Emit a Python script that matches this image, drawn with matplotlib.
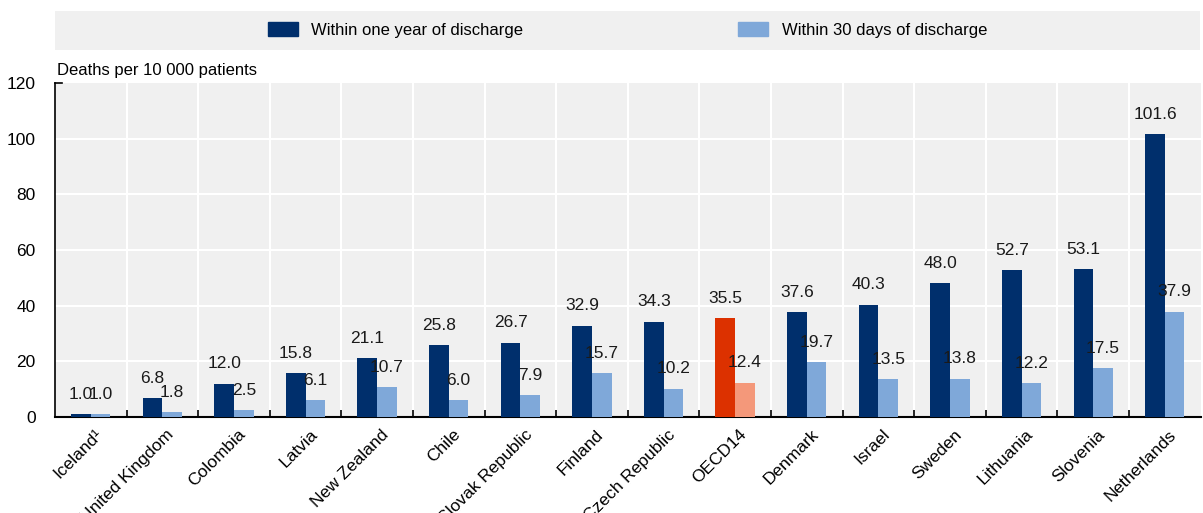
import matplotlib
matplotlib.use("Agg")
import matplotlib.pyplot as plt
import matplotlib.transforms as mtransforms
from matplotlib.patches import Patch
import numpy as np

plt.rcParams['font.family'] = ['Liberation Sans', 'DejaVu Sans']

countries = ["Iceland¹", "United Kingdom", "Colombia", "Latvia", "New Zealand", "Chile",
             "Slovak Republic", "Finland", "Czech Republic", "OECD14", "Denmark", "Israel",
             "Sweden", "Lithuania", "Slovenia", "Netherlands"]
one_year = [1.0, 6.8, 12.0, 15.8, 21.1, 25.8, 26.7, 32.9, 34.3, 35.5, 37.6, 40.3, 48.0, 52.7, 53.1, 101.6]
thirty_days = [1.0, 1.8, 2.5, 6.1, 10.7, 6.0, 7.9, 15.7, 10.2, 12.4, 19.7, 13.5, 13.8, 12.2, 17.5, 37.9]
yticks = [0, 20, 40, 60, 80, 100, 120]

dark = "#002F6C"
light = "#7FA8D9"
hl_dark = "#DC3100"
hl_light = "#F4987A"
bg = "#F0F0F0"

fig = plt.figure(figsize=(12.03, 5.13), dpi=100)
ax = fig.add_axes([0.0457, 0.187, 0.9523, 0.651])
ax.set_facecolor(bg)

n = len(countries)
x = np.arange(n)
w = 0.275
c1 = [hl_dark if c == "OECD14" else dark for c in countries]
c2 = [hl_light if c == "OECD14" else light for c in countries]
ax.bar(x - w / 2, one_year, w, color=c1, zorder=3)
ax.bar(x + w / 2, thirty_days, w, color=c2, zorder=3)

for xi, v in zip(x, one_year):
    ax.annotate(f"{v:.1f}", (xi - w / 2, v), xytext=(0, 9), textcoords="offset points",
                ha="center", va="bottom", fontsize=12.5, color="#1a1a1a")
for xi, v in zip(x, thirty_days):
    ax.annotate(f"{v:.1f}", (xi + w / 2, v), xytext=(0, 9), textcoords="offset points",
                ha="center", va="bottom", fontsize=12.5, color="#1a1a1a")

ax.set_xlim(-0.5, n - 0.5)
ax.set_ylim(0, 120)
ax.set_yticks(yticks)
ax.set_yticklabels([str(t) for t in yticks], fontsize=12.5)
ax.tick_params(axis="y", length=0, pad=14)

# category boundaries: white separators and upward ticks
bounds = np.arange(0.5, n - 0.5, 1.0)
for b in bounds:
    ax.axvline(b, color="white", lw=1.5, zorder=1)
for t in yticks[1:-1]:
    ax.axhline(t, color="white", lw=1.5, zorder=1)
ax.set_xticks(bounds, minor=True)
ax.tick_params(axis="x", which="minor", direction="in", length=5, width=1.2, color="black")
ax.set_xticks(x)
ax.set_xticklabels(countries, rotation=45, ha="right", rotation_mode="anchor", fontsize=12.5)
ax.tick_params(axis="x", which="major", length=0, pad=7)
shift = mtransforms.ScaledTranslation(4 / 100, 0, fig.dpi_scale_trans)
for lbl in ax.get_xticklabels():
    lbl.set_transform(lbl.get_transform() + shift)

for s in ["top", "right"]:
    ax.spines[s].set_visible(False)
ax.spines["bottom"].set_linewidth(1.5)
ax.spines["left"].set_linewidth(1.2)
ax.plot([0, 0.006], [1, 1], transform=ax.transAxes, color="black", lw=1.2, clip_on=False)

ax.text(0.0015, 1.014, "Deaths per 10 000 patients", transform=ax.transAxes, fontsize=12,
        ha="left", va="bottom")

# legend band
band = fig.add_axes([0.0457, 0.903, 0.952, 0.076])
band.set_facecolor(bg)
band.set_xticks([]); band.set_yticks([])
for s in band.spines.values():
    s.set_visible(False)
handles = [Patch(color=dark, label="Within one year of discharge"),
           Patch(color=light, label="Within 30 days of discharge")]
band.legend(handles=handles, loc="center", ncol=2, frameon=False, fontsize=12,
            handlelength=1.8, handleheight=0.9, columnspacing=12.9, handletextpad=0.8)

fig.savefig("out.png", dpi=100)
